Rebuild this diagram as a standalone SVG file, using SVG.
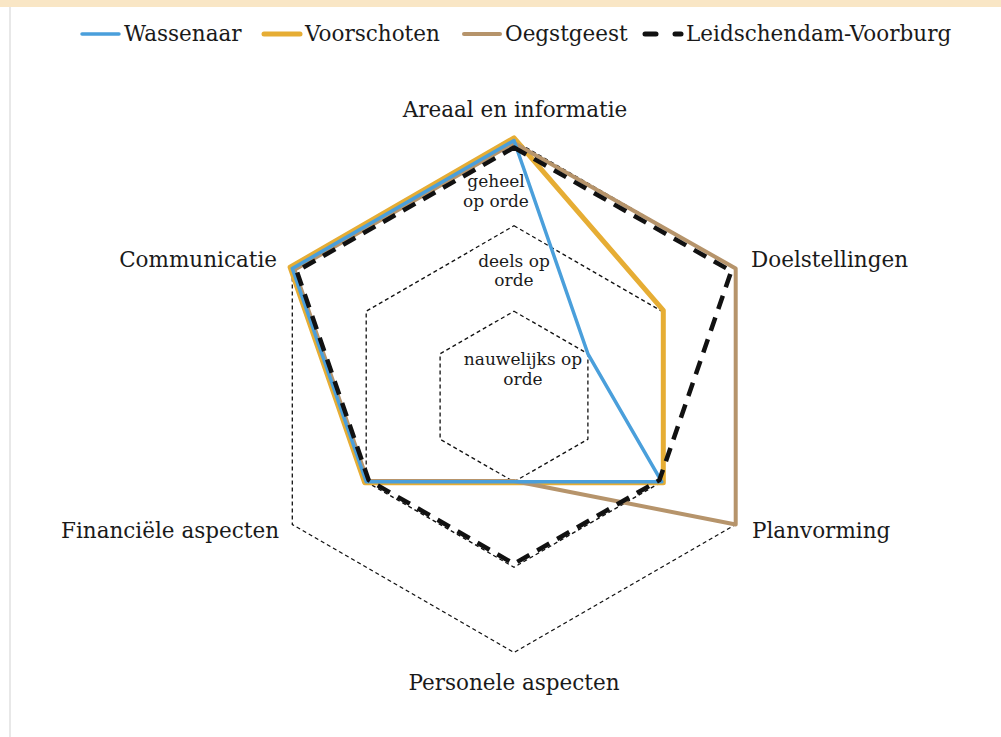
<svg xmlns="http://www.w3.org/2000/svg" width="1001" height="737" viewBox="0 0 1001 737">
<style>
text{font-family:"DejaVu Serif","Liberation Serif",serif;fill:#1a1a1a}
.lbl{font-size:21.5px}
.lvl{font-size:17px;text-anchor:middle}
.grid{fill:none;stroke:#111;stroke-width:1.3;stroke-dasharray:4 3}
.s{fill:none;stroke-linejoin:round;stroke-linecap:round}
.blue{stroke:#4a9fdb;stroke-width:3.5}
.yel{stroke:#e6ad34;stroke-width:5}
.brn{stroke:#b6946b;stroke-width:4}
.blk{stroke:#111;stroke-width:4.5;stroke-dasharray:14 9;stroke-linecap:butt}
</style>
<rect x="0" y="0" width="1001" height="737" fill="#ffffff"/>
<rect x="0" y="0" width="1001" height="7" fill="#f9e6c5"/>
<rect x="9" y="7" width="2" height="730" fill="#e8e8e8"/>
<g id="legend">
<line x1="82" y1="34" x2="119" y2="34" class="s blue" stroke-width="4.5"/>
<text x="124" y="41" class="lbl">Wassenaar</text>
<line x1="264" y1="34" x2="300" y2="34" class="s yel" stroke-width="4.5"/>
<text x="305" y="41" class="lbl">Voorschoten</text>
<line x1="464" y1="34" x2="500" y2="34" class="s brn" stroke-width="4.5"/>
<text x="505" y="41" class="lbl">Oegstgeest</text>
<line x1="645" y1="34" x2="656" y2="34" stroke="#111" stroke-width="5" stroke-linecap="round"/>
<line x1="675" y1="34" x2="681" y2="34" stroke="#111" stroke-width="5" stroke-linecap="round"/>
<text x="686" y="41" class="lbl">Leidschendam-Voorburg</text>
</g>
<g id="grid">
<polygon class="grid" points="514,311.2 587.9,353.8 587.9,439.2 514,481.8 440.1,439.2 440.1,353.8"/>
<polygon class="grid" points="514,225.8 661.8,311.2 661.8,481.8 514,567.2 366.2,481.8 366.2,311.2"/>
<polygon class="grid" points="514,140.5 735.7,268.5 735.7,524.5 514,652.5 292.3,524.5 292.3,268.5"/>
</g>
<g id="series">
<polygon id="voorschoten" class="s yel" points="514,137.9 663.3,310.3 663.3,482.7 514,482.7 364.7,482.7 290.1,267.2"/>
<polygon id="oegstgeest" class="s brn" points="514,143 735.7,268.5 735.7,524.5 514,481 367.6,481 294.5,269.8"/>
<polygon id="wassenaar" class="s blue" points="514,140.5 587.9,353.8 661.8,481.8 514,481.8 366.2,481.8 292.3,268.5"/>
<polygon id="leidschendam" class="s blk" points="514,147.5 731.3,271.1 659.4,480.1 514,563.8 368.6,480.1 296.7,271.1"/>
</g>
<g id="axis-labels">
<text x="515" y="117" class="lbl" text-anchor="middle">Areaal en informatie</text>
<text x="751" y="267" class="lbl">Doelstellingen</text>
<text x="752" y="538" class="lbl">Planvorming</text>
<text x="514" y="690" class="lbl" text-anchor="middle">Personele aspecten</text>
<text x="279" y="538" class="lbl" text-anchor="end">Financiële aspecten</text>
<text x="277" y="267" class="lbl" text-anchor="end">Communicatie</text>
</g>
<g id="level-labels">
<text x="496" y="187" class="lvl">geheel</text>
<text x="496" y="207" class="lvl">op orde</text>
<text x="514" y="267" class="lvl">deels op</text>
<text x="514" y="286" class="lvl">orde</text>
<text x="523" y="365" class="lvl">nauwelijks op</text>
<text x="523" y="385" class="lvl">orde</text>
</g>
</svg>
